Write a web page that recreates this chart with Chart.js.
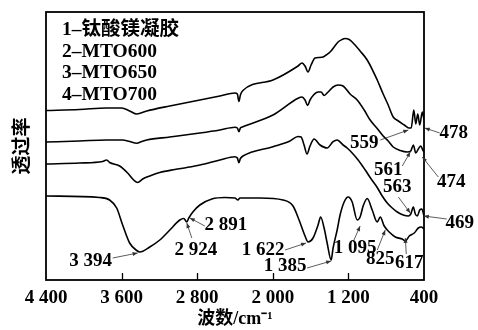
<!DOCTYPE html>
<html><head><meta charset="utf-8">
<script src="https://cdn.jsdelivr.net/npm/chart.js@4"></script>
<style>html,body{margin:0;padding:0;background:#fff;overflow:hidden}</style>
</head><body>
<canvas id="c" width="478" height="330"></canvas>
<script>
// ---- data (wavenumber in cm^-1, transmittance in arbitrary units) ----
const seriesLabels = ['1–钛酸镁凝胶', '2–MTO600', '3–MTO650', '4–MTO700'];

// 1 - gel (bottom curve)
const wn1 = [4400,3833,3727,3652,3589,3515,3440,3408,3302,3196,3090,2984,2942,2910,2889,2846,2772,2645,2507,2401,2369,2348,2136,1892,1786,1722,1659,1627,1574,1521,1494,1457,1425,1383,1362,1319,1288,1245,1203,1160,1107,1076,1044,1001,948,895,863,821,768,704,630,598,556,503,460,429,400];
const t1 = [84,82.5,80,72,55,37,29.5,28,33,40,50,60,61.5,58,62,68,75,81,82.5,82,80,82,82,80,74,60,44,38,42,55,63,52,37,20,32,50,65,78,83,78,60,63,74,81.5,70,58,63,54,48,43,41,39,44,47,52,53,51];

// 2 - MTO600
const wn2 = [4400,4045,3801,3758,3727,3621,3536,3472,3430,3377,3302,3196,3037,2910,2772,2560,2401,2375,2359,2343,2316,1998,1818,1733,1701,1669,1638,1606,1563,1500,1425,1362,1319,1256,1213,1160,1097,1022,959,895,842,789,736,683,620,566,540,513,492,471,445,423,400];
const t2 = [116,117,118.5,120,117.5,114,107,100,97.5,101,104,107.5,110.5,112.5,115,120,123.3,122,117.3,121.5,124,133.3,139,143.5,143,135,126,134,141,135,132,138.3,140,135,132,127,120,110,101,92.5,84,77,72,68,65,64,66,73,66,64,70,71,64];

// 3 - MTO650
const wn3 = [4400,4045,3758,3589,3515,3440,3387,3334,3090,2772,2560,2401,2375,2359,2343,2316,1998,1733,1691,1659,1632,1606,1569,1521,1489,1457,1415,1362,1309,1256,1182,1107,1033,970,895,832,779,726,651,577,540,513,487,460,434,413,400];
const t3 = [138,139,140,140,138.5,136.7,138.5,140,143,147,150,152.7,152,148.3,152,153.3,165,181.7,183,180,174.5,180,185,188,188,184.5,188,193,195,194,186,180,170,160,151.5,144,139,133,129.5,128,129,135,127,131,134,130,128];

// 4 - MTO700 (top curve)
const wn4 = [4400,4045,3758,3599,3515,3440,3334,3090,2772,2560,2401,2375,2359,2343,2316,1998,1733,1691,1659,1627,1595,1553,1510,1468,1436,1394,1309,1266,1235,1192,1160,1076,1001,895,832,779,726,672,609,560,535,508,487,466,445,418,400];
const t4 = [169.5,170.5,172,172,169,166,169,174,180,184,187,186,178.5,185,189.5,200,214,217,214,208,215,222,222.5,223,225,228,238,240.5,241.5,240.5,238,229,220,200,186,175,163,159,155,152,152,170,156,166,155,168,160];

// axis ticks
const xTickValues = [4400, 3600, 2800, 2000, 1200, 400];
const xTickLabels = ['4 400', '3 600', '2 800', '2 000', '1 200', '400'];

// peak annotations: text, arrow-tip wavenumber, arrow-tip transmittance
const annoText = ['559','478','561','474','563','469','3 394','2 924','2 891','1 622','1 385','1 095','825','617'];
const annoWn   = [566, 392, 545, 418, 545, 402, 3430, 2910, 2878, 1648, 1383, 1076, 810, 598];
const annoT    = [150, 152, 128, 123, 67, 64, 27, 57, 62, 37, 19, 54, 50, 42];

// ---- styling (pixel offsets of label and arrow tail from arrow tip) ----
const annoLabelOffset = [[-44,13],[29,5],[-22,18],[29,25],[-13,-26],[36,7],[-47,8],[9,27],[36,7],[-43,7],[-46,5],[-5,22],[-5,29],[4,25]];
const annoTailOffset  = [[-28,10],[15,5],[-8,14],[16,20],[-12,-16],[23,3],[-25,5],[5,15],[15,8],[-21,7],[-24,7],[-7,16],[-8,20],[1,16]];

const SERIF = "'Liberation Serif','Noto Sans CJK SC',serif";

function pts(xs, ys) { return xs.map((x, i) => ({ x: x, y: ys[i] })); }
const curves = [[wn1, t1], [wn2, t2], [wn3, t3], [wn4, t4]];

const decor = {
  id: 'decor',
  afterDraw(chart) {
    const ctx = chart.ctx, a = chart.chartArea;
    const xs = chart.scales.x, ys = chart.scales.y;
    ctx.save();
    // frame
    ctx.strokeStyle = '#000';
    ctx.lineWidth = 1.8;
    ctx.strokeRect(a.left, a.top, a.right - a.left, a.bottom - a.top);
    // inward tick marks
    ctx.lineWidth = 1.3;
    xTickValues.forEach(v => {
      if (v === xs.min || v === xs.max) return;
      const px = Math.round(xs.getPixelForValue(v)) + 0.5;
      ctx.beginPath(); ctx.moveTo(px, a.bottom); ctx.lineTo(px, a.bottom - 7); ctx.stroke();
    });
    // legend text
    ctx.fillStyle = '#000';
    ctx.font = 'bold 19.5px ' + SERIF;
    ctx.textAlign = 'left';
    ctx.textBaseline = 'middle';
    chart.data.datasets.forEach((ds, i) => {
      ctx.fillText(ds.label, a.left + 16, a.top + 18 + i * 21.7);
    });
    // annotations
    ctx.font = 'bold 19px ' + SERIF;
    ctx.textAlign = 'center';
    annoText.forEach((txt, i) => {
      const tx = xs.getPixelForValue(annoWn[i]);
      const ty = ys.getPixelForValue(annoT[i]);
      const sx = tx + annoTailOffset[i][0], sy = ty + annoTailOffset[i][1];
      ctx.strokeStyle = '#333'; ctx.fillStyle = '#333'; ctx.lineWidth = 0.8;
      ctx.beginPath(); ctx.moveTo(sx, sy); ctx.lineTo(tx, ty); ctx.stroke();
      const ang = Math.atan2(ty - sy, tx - sx);
      ctx.beginPath();
      ctx.moveTo(tx, ty);
      ctx.lineTo(tx - 5 * Math.cos(ang) + 2 * Math.sin(ang), ty - 5 * Math.sin(ang) - 2 * Math.cos(ang));
      ctx.lineTo(tx - 5 * Math.cos(ang) - 2 * Math.sin(ang), ty - 5 * Math.sin(ang) + 2 * Math.cos(ang));
      ctx.closePath(); ctx.fill();
      ctx.fillStyle = '#000';
      ctx.fillText(txt, tx + annoLabelOffset[i][0], ty + annoLabelOffset[i][1]);
    });
    ctx.restore();
  }
};

new Chart(document.getElementById('c'), {
  type: 'line',
  data: {
    datasets: curves.map((c, i) => ({
      label: seriesLabels[i],
      data: pts(c[0], c[1]),
      borderColor: '#000',
      borderWidth: 1.6,
      pointRadius: 0,
      fill: false,
      cubicInterpolationMode: 'monotone'
    }))
  },
  options: {
    responsive: false,
    animation: false,
    devicePixelRatio: 1,
    layout: { padding: { left: 0, right: 54, top: 12, bottom: 0 } },
    plugins: { legend: { display: false }, tooltip: { enabled: false } },
    scales: {
      x: {
        type: 'linear', reverse: true, min: 400, max: 4400,
        grid: { display: false, drawTicks: false },
        border: { display: false },
        afterBuildTicks: s => { s.ticks = xTickValues.map(v => ({ value: v })); },
        afterFit: s => { s.height = 50; },
        ticks: {
          autoSkip: false, maxRotation: 0, padding: 7, color: '#000',
          font: { family: SERIF, size: 19, weight: 'bold' },
          callback: (v, i) => xTickLabels[i]
        },
        title: {
          display: true, text: '波数/cm⁻¹', color: '#000',
          font: { family: SERIF, size: 18, weight: 'bold' },
          padding: { top: 0, bottom: 0 }
        }
      },
      y: {
        type: 'linear', min: 0, max: 268,
        grid: { display: false, drawTicks: false },
        border: { display: false },
        ticks: { display: false },
        afterFit: s => { s.width = 46; },
        title: {
          display: true, text: '透过率', color: '#000',
          font: { family: "'Noto Sans CJK SC',sans-serif", size: 19, weight: 'bold' },
          padding: { top: 9, bottom: 0 }
        }
      }
    }
  },
  plugins: [decor]
});
</script>
</body></html>
